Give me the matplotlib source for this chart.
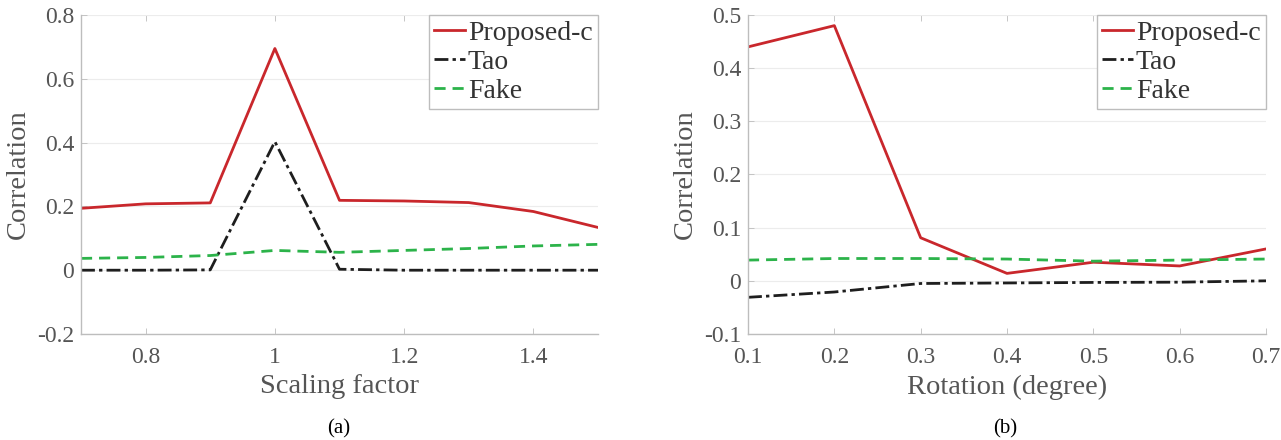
import numpy as np
import matplotlib.pyplot as plt

plt.rcParams['font.family'] = ['Liberation Serif', 'DejaVu Serif']

# (a) scaling
scale_x = [0.7, 0.8, 0.9, 1.0, 1.1, 1.2, 1.3, 1.4, 1.5]
scale_prop = [0.194, 0.208, 0.211, 0.695, 0.219, 0.217, 0.212, 0.184, 0.134]
scale_tao = [0.0, 0.0, 0.001, 0.403, 0.003, 0.0, 0.0, 0.0, 0.0]
scale_fake = [0.037, 0.040, 0.046, 0.062, 0.056, 0.062, 0.068, 0.076, 0.081]

# (b) rotation
rot_x = [0.1, 0.2, 0.3, 0.4, 0.5, 0.6, 0.7]
rot_prop = [0.44, 0.48, 0.081, 0.014, 0.035, 0.028, 0.060]
rot_tao = [-0.031, -0.021, -0.005, -0.004, -0.003, -0.0025, 0.0]
rot_fake = [0.039, 0.042, 0.042, 0.041, 0.037, 0.039, 0.041]

labels = ['Proposed-c', 'Tao', 'Fake']
red = '#c9272c'
blk = '#1e1e1e'
grn = '#2cb34a'
txt = '#555555'

fig = plt.figure(figsize=(12.81, 4.40), dpi=100)
ax1 = fig.add_axes([81/1281, 106/440, 517/1281, 319/440])
ax2 = fig.add_axes([748/1281, 106/440, 518/1281, 319/440])


def style(ax, xlim, ylim, xticks, yticks, xlabel):
    ax.set_xlim(xlim)
    ax.set_ylim(ylim)
    ax.set_xticks(xticks)
    ax.set_yticks(yticks)
    ax.set_xticklabels([('%g' % v) for v in xticks])
    ax.set_yticklabels([('%g' % v) for v in yticks])
    ax.grid(axis='y', color='#ececec', lw=0.8)
    ax.set_axisbelow(True)
    for s in ['top', 'right']:
        ax.spines[s].set_visible(False)
    for s in ['left', 'bottom']:
        ax.spines[s].set_color('#bdbdbd')
        ax.spines[s].set_linewidth(1.0)
    ax.tick_params(direction='in', length=4, width=0.6, color='#bdbdbd',
                   labelsize=17, labelcolor=txt, top=True)
    ax.tick_params(axis='x', pad=9)
    ax.tick_params(axis='y', pad=5)
    ax.set_xlabel(xlabel, fontsize=20.5, color=txt, labelpad=5)
    ax.set_ylabel('Correlation', fontsize=20.5, color=txt, labelpad=4)


def draw(ax, x, p, t, f):
    ax.plot(x, p, color=red, lw=2.0, label=labels[0])
    ax.plot(x, t, color=blk, lw=2.0, ls=(0, (5, 1.5, 1.2, 1.5)), label=labels[1])
    ax.plot(x, f, color=grn, lw=2.0, ls=(0, (4, 2.5)), label=labels[2])
    leg = ax.legend(loc='upper right', bbox_to_anchor=(1.0, 1.0), borderaxespad=0,
                    fontsize=20, handlelength=1.1, handletextpad=0.1,
                    labelspacing=0.12, borderpad=0.2, fancybox=False, framealpha=1)
    leg.get_frame().set_edgecolor('#bdbdbd')
    leg.get_frame().set_linewidth(1.0)
    for tx in leg.get_texts():
        tx.set_color('#333333')


draw(ax1, scale_x, scale_prop, scale_tao, scale_fake)
style(ax1, (0.7, 1.5), (-0.2, 0.8), [0.8, 1.0, 1.2, 1.4],
      [-0.2, 0, 0.2, 0.4, 0.6, 0.8], 'Scaling factor')

draw(ax2, rot_x, rot_prop, rot_tao, rot_fake)
style(ax2, (0.1, 0.7), (-0.1, 0.5), rot_x,
      [-0.1, 0, 0.1, 0.2, 0.3, 0.4, 0.5], 'Rotation (degree)')

fig.text(339/1281, 1 - 429/440, '(a)', ha='center', va='center', fontsize=15)
fig.text(1005/1281, 1 - 429/440, '(b)', ha='center', va='center', fontsize=15)

fig.savefig('out.png', dpi=100)
